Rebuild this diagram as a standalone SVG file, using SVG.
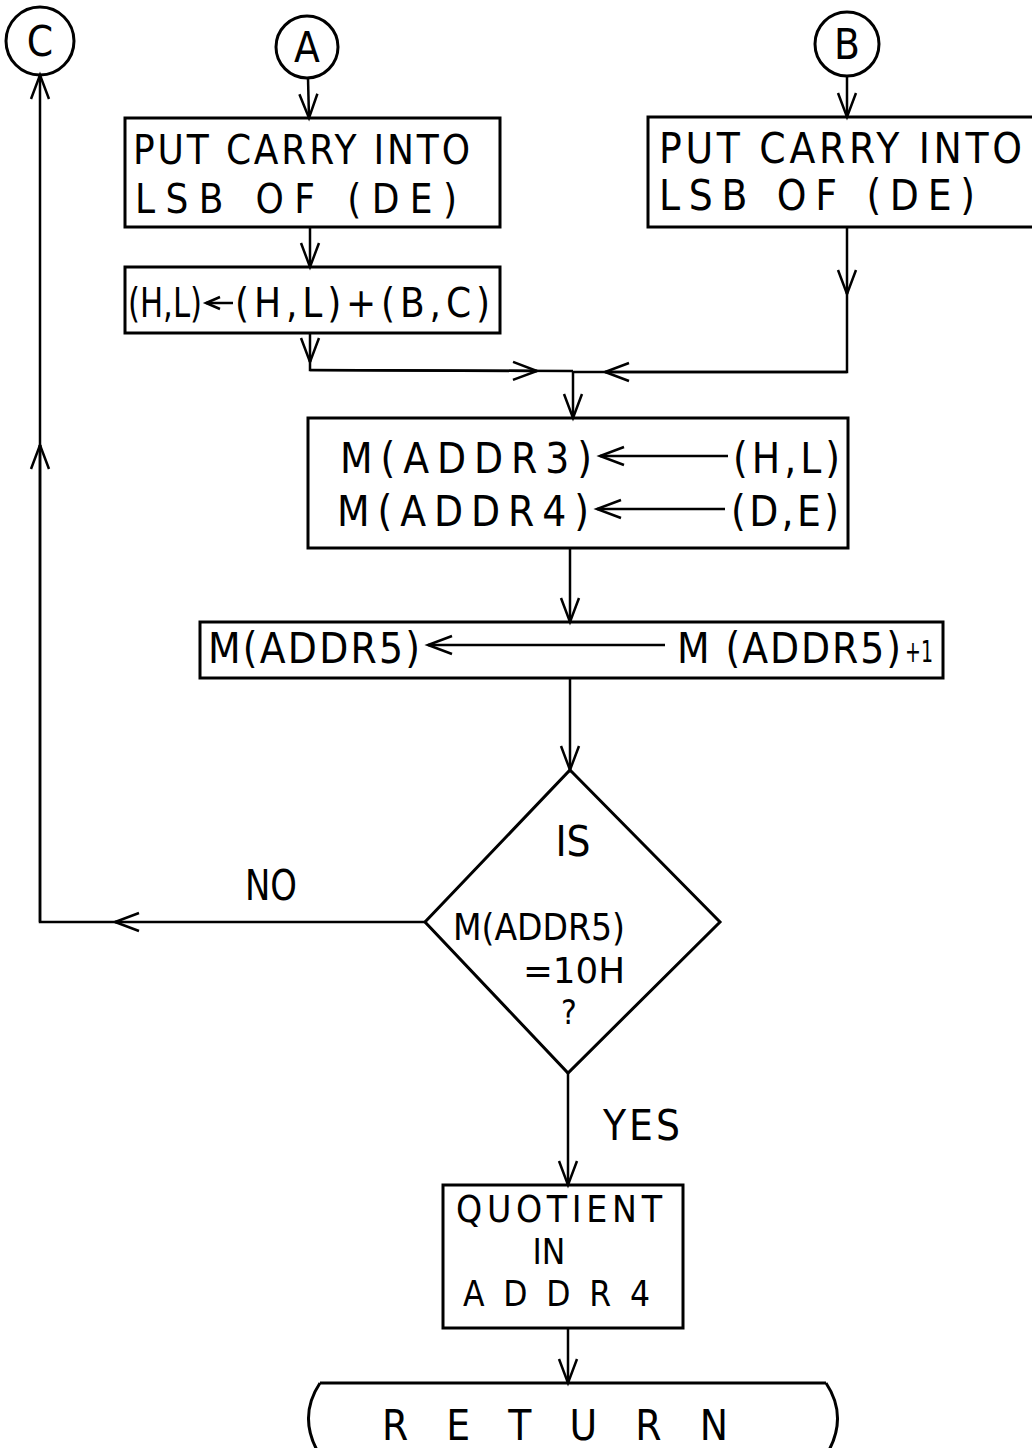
<svg xmlns="http://www.w3.org/2000/svg" width="1032" height="1448" viewBox="0 0 1032 1448">
<defs>
<style>
.box{fill:none;stroke:#000;stroke-width:3}
.ln{fill:none;stroke:#000;stroke-width:2.5}
.t{font-family:"DejaVu Sans Condensed","DejaVu Sans","Liberation Sans",sans-serif;font-size:40px;fill:#000}
.t2{font-family:"DejaVu Sans Condensed","DejaVu Sans","Liberation Sans",sans-serif;font-size:42px;fill:#000}
</style>
<marker id="ah" markerUnits="userSpaceOnUse" markerWidth="40" markerHeight="30" viewBox="-30 -15 40 30" refX="0" refY="0" orient="auto">
<path d="M -24 -9 L 0 0 L -24 9" fill="none" stroke="#000" stroke-width="2.5"/>
</marker>
<marker id="ahs" markerUnits="userSpaceOnUse" markerWidth="30" markerHeight="20" viewBox="-20 -10 30 20" refX="0" refY="0" orient="auto">
<path d="M -14 -6 L 0 0 L -14 6" fill="none" stroke="#000" stroke-width="2.5"/>
</marker>
</defs>
<rect width="1032" height="1448" fill="#fff"/>

<g id="connC">
<circle class="box" cx="40" cy="41" r="34"/>
<text class="t2" x="40" y="56" text-anchor="middle">C</text>
</g>
<g id="connA">
<circle class="box" cx="307" cy="47" r="31"/>
<text class="t2" x="307" y="62" text-anchor="middle">A</text>
</g>
<g id="connB">
<circle class="box" cx="847" cy="44" r="32"/>
<text class="t2" x="847" y="59" text-anchor="middle">B</text>
</g>

<g id="putA">
<rect class="box" x="125" y="118" width="375" height="109"/>
<text class="t" x="133" y="164" textLength="337" lengthAdjust="spacing">PUT CARRY INTO</text>
<text class="t" x="135" y="213" textLength="322" lengthAdjust="spacing">LSB OF (DE)</text>
</g>
<g id="putB">
<rect class="box" x="648" y="117" width="400" height="110"/>
<text class="t2" x="659" y="163" textLength="363" lengthAdjust="spacing">PUT CARRY INTO</text>
<text class="t2" x="659" y="210" textLength="316" lengthAdjust="spacing">LSB OF (DE)</text>
</g>
<g id="addHL">
<rect class="box" x="125" y="267" width="375" height="66"/>
<text class="t" x="128" y="317" textLength="74" lengthAdjust="spacingAndGlyphs">(H,L)</text>
<line class="ln" x1="233" y1="303" x2="206" y2="303" marker-end="url(#ahs)"/>
<text class="t" x="235" y="317" textLength="255" lengthAdjust="spacing">(H,L)+(B,C)</text>
</g>
<g id="store34">
<rect class="box" x="308" y="418" width="540" height="130"/>
<text class="t2" x="340" y="473" textLength="252" lengthAdjust="spacing">M(ADDR3)</text>
<line class="ln" x1="728" y1="456" x2="600" y2="456" marker-end="url(#ah)"/>
<text class="t2" x="733" y="473" textLength="107" lengthAdjust="spacing">(H,L)</text>
<text class="t2" x="337" y="526" textLength="252" lengthAdjust="spacing">M(ADDR4)</text>
<line class="ln" x1="725" y1="509" x2="597" y2="509" marker-end="url(#ah)"/>
<text class="t2" x="731" y="526" textLength="108" lengthAdjust="spacing">(D,E)</text>
</g>
<g id="inc5">
<rect class="box" x="200" y="622" width="743" height="56"/>
<text class="t2" x="208" y="663" textLength="212" lengthAdjust="spacing">M(ADDR5)</text>
<line class="ln" x1="665" y1="645" x2="428" y2="645" marker-end="url(#ah)"/>
<text class="t2" x="677" y="663" textLength="224" lengthAdjust="spacing">M (ADDR5)</text>
<text class="t" x="905" y="662" style="font-size:30px" textLength="28" lengthAdjust="spacingAndGlyphs">+1</text>
</g>
<g id="decide">
<polygon class="box" points="570,770 720,922 568,1073 425,922"/>
<text class="t2" x="573" y="856" text-anchor="middle">IS</text>
<text class="t2" x="453" y="940" style="font-size:38px" textLength="172" lengthAdjust="spacingAndGlyphs">M(ADDR5)</text>
<text class="t2" x="523" y="983" style="font-size:36px" textLength="102" lengthAdjust="spacingAndGlyphs">=10H</text>
<text class="t2" x="569" y="1024" style="font-size:33px" text-anchor="middle">?</text>
</g>
<g id="quot">
<rect class="box" x="443" y="1185" width="240" height="143"/>
<text class="t2" x="456" y="1222" style="font-size:37px" textLength="206" lengthAdjust="spacing">QUOTIENT</text>
<text class="t2" x="549" y="1264" style="font-size:35px" text-anchor="middle">IN</text>
<text class="t2" x="463" y="1306" style="font-size:35px" textLength="187" lengthAdjust="spacing">ADDR4</text>
</g>
<g id="ret">
<path class="box" d="M 320 1383 L 826 1383 M 320 1383 Q 298 1416 318 1452 M 826 1383 Q 848 1416 828 1452"/>
<text class="t2" x="382" y="1440" textLength="346" lengthAdjust="spacing">RETURN</text>
</g>

<g id="labels">
<text class="t2" x="245" y="900" textLength="52" lengthAdjust="spacingAndGlyphs">NO</text>
<text class="t2" x="603" y="1140" textLength="77" lengthAdjust="spacing">YES</text>
</g>

<g id="connectors">
<line class="ln" x1="308" y1="78" x2="309" y2="118" marker-end="url(#ah)"/>
<line class="ln" x1="310" y1="227" x2="310" y2="267" marker-end="url(#ah)"/>
<line class="ln" x1="310" y1="333" x2="310" y2="362" marker-end="url(#ah)"/>
<path class="ln" d="M 310 360 L 310 370 L 573 371"/>
<line class="ln" x1="310" y1="370" x2="537" y2="371" marker-end="url(#ah)"/>
<line class="ln" x1="847" y1="76" x2="847" y2="117" marker-end="url(#ah)"/>
<line class="ln" x1="847" y1="227" x2="847" y2="294" marker-end="url(#ah)"/>
<path class="ln" d="M 847 292 L 847 372 L 573 372"/>
<line class="ln" x1="847" y1="372" x2="605" y2="372" marker-end="url(#ah)"/>
<line class="ln" x1="573" y1="372" x2="573" y2="418" marker-end="url(#ah)"/>
<line class="ln" x1="570" y1="548" x2="570" y2="622" marker-end="url(#ah)"/>
<line class="ln" x1="570" y1="678" x2="570" y2="770" marker-end="url(#ah)"/>
<line class="ln" x1="425" y1="922" x2="115" y2="922" marker-end="url(#ah)"/>
<path class="ln" d="M 117 922 L 40 922 L 40 445"/>
<line class="ln" x1="40" y1="922" x2="40" y2="445" marker-end="url(#ah)"/>
<line class="ln" x1="40" y1="447" x2="40" y2="75" marker-end="url(#ah)"/>
<line class="ln" x1="568" y1="1073" x2="568" y2="1185" marker-end="url(#ah)"/>
<line class="ln" x1="568" y1="1328" x2="568" y2="1383" marker-end="url(#ah)"/>
</g>
</svg>
